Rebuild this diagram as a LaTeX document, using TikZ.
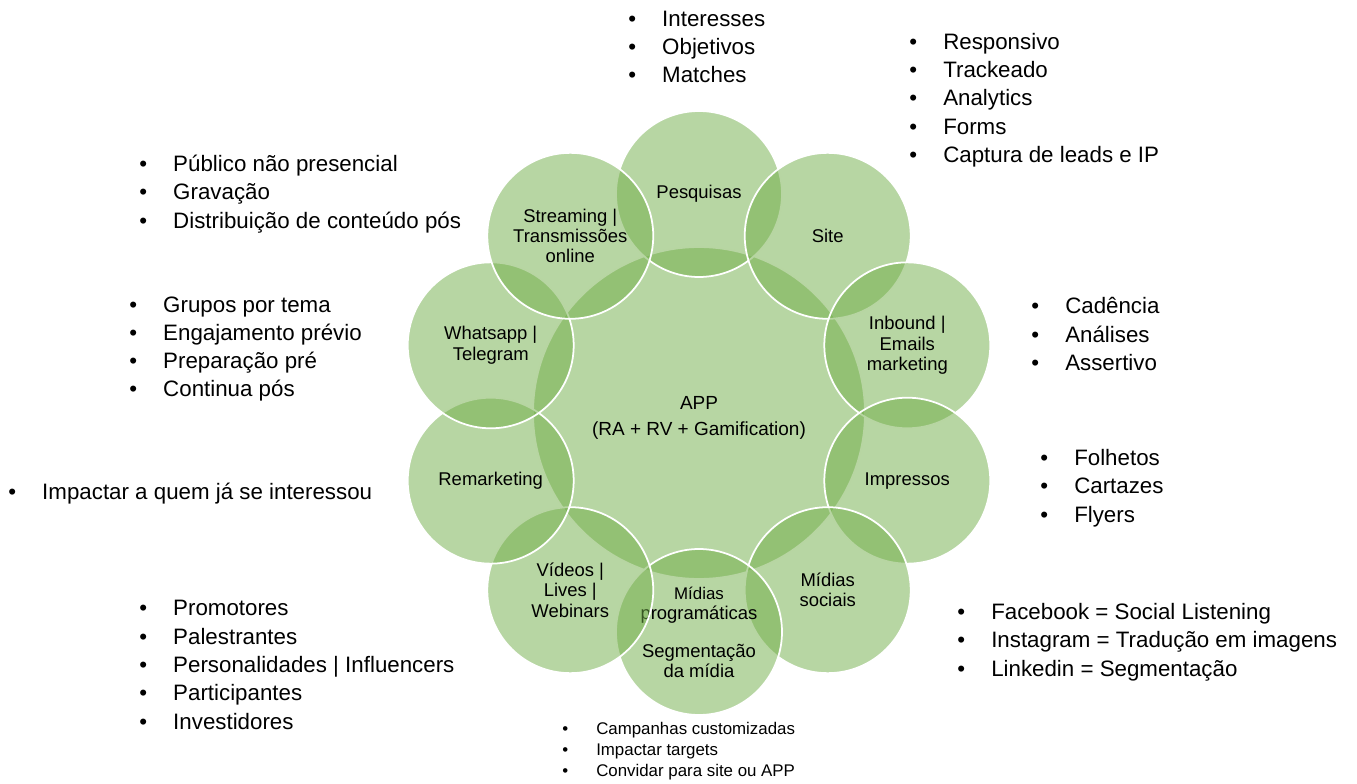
\documentclass[tikz,border=0pt]{standalone}
\usepackage{fontspec}
\setmainfont{Liberation Sans}
\usetikzlibrary{calc,positioning}
\definecolor{leafgreen}{RGB}{112,173,71}
\newcommand{\bl}[1]{\makebox[19.3pt][l]{\textbullet}#1}

\begin{document}
\begin{tikzpicture}[
  x=0.02cm, y=0.02cm,
  hub/.style={circle, fill=leafgreen, fill opacity=0.5, text opacity=1, draw=white, line width=1pt,
              minimum size=6.64cm, inner sep=0pt, align=center, font=\fontsize{10.8}{12}\selectfont},
  sat/.style={hub, minimum size=3.32cm, font=\fontsize{10.5}{11.5}\selectfont},
  blist/.style={anchor=west, align=left, inner sep=0pt, font=\fontsize{12.7}{16.1}\selectfont},
  slist/.style={blist, font=\fontsize{9.6}{11.9}\selectfont},
]
\useasboundingbox (0,0) rectangle (1357,-784);

% centre
\node[hub] (app) at (699,-413) {\mbox{}\\[1.4pt]APP\\[3pt](RA + RV + Gamification)};

% ring of channels
\foreach \ang/\nm/\txt in {
    90/pesq/{Pesquisas},
    54/site/{Site},
    18/inbound/{Inbound |\\Emails\\marketing},
    -18/impr/{Impressos},
    -54/midsoc/{Mídias\\sociais},
    -90/midprog/{\fontsize{9.6}{9.8}\selectfont Mídias\\programáticas\\[10pt]Segmentação\\da mídia},
    -126/videos/{Vídeos |\\Lives |\\Webinars},
    -162/remkt/{Remarketing},
    162/whats/{Whatsapp |\\Telegram},
    126/stream/{Streaming |\\Transmissões\\online}}
  \node[sat] (\nm) at ($(app)+(\ang:219)$) {\txt};

% notes
\node[blist] (pesqnote) at (628,-47) {\bl{Interesses}\\\bl{Objetivos}\\\bl{Matches}};
\node[blist] (sitenote) at (909,-100) {\bl{Responsivo}\\\bl{Trackeado}\\\bl{Analytics}\\\bl{Forms}\\\bl{Captura de leads e IP}};
\node[blist] (inboundnote) at (1031,-334) {\bl{Cadência}\\\bl{Análises}\\\bl{Assertivo}};
\node[blist] (imprnote) at (1040,-488) {\bl{Folhetos}\\\bl{Cartazes}\\\bl{Flyers}};
\node[blist] (midsocnote) at (957,-642) {\bl{Facebook = Social Listening}\\\bl{Instagram = Tradução em imagens}\\\bl{Linkedin = Segmentação}};
\node[slist] (midprognote) at (562,-751) {\bl{Campanhas customizadas}\\\bl{Impactar targets}\\\bl{Convidar para site ou APP}};
\node[blist] (videosnote) at (139,-665) {\bl{Promotores}\\\bl{Palestrantes}\\\bl{Personalidades | Influencers}\\\bl{Participantes}\\\bl{Investidores}};
\node[blist] (remktnote) at (8,-494) {\bl{Impactar a quem já se interessou}};
\node[blist] (whatsnote) at (129,-349) {\bl{Grupos por tema}\\\bl{Engajamento prévio}\\\bl{Preparação pré}\\\bl{Continua pós}};
\node[blist] (streamnote) at (139,-194) {\bl{Público não presencial}\\\bl{Gravação}\\\bl{Distribuição de conteúdo pós}};
\end{tikzpicture}
\end{document}
